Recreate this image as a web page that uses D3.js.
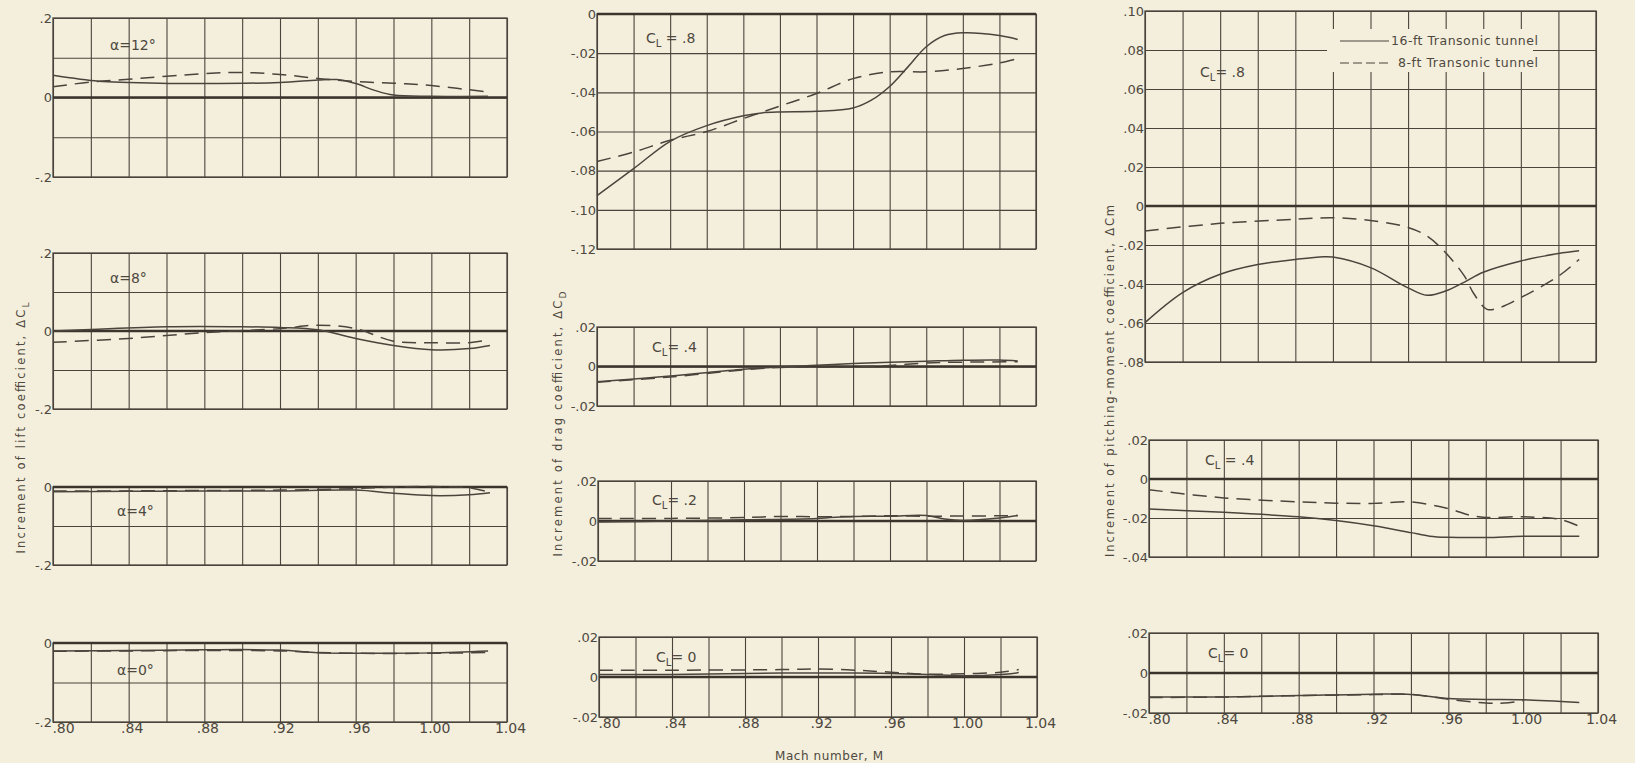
<!DOCTYPE html>
<html>
<head>
<meta charset="utf-8">
<script src="https://cdn.jsdelivr.net/npm/d3@7"></script>
<style>
  body { margin: 0; background: #f4efdc; }
  svg { display: block; }
  text { font-family: 'DejaVu Sans', sans-serif; fill: #4e4840; }
</style>
</head>
<body>
<svg width="1635" height="763"></svg>
<script>
// mach axis
const machTicks = [0.80, 0.84, 0.88, 0.92, 0.96, 1.00, 1.04];
const machTickLabels = ['.80', '.84', '.88', '.92', '.96', '1.00', '1.04'];
const machGrid = [0.80, 0.82, 0.84, 0.86, 0.88, 0.90, 0.92, 0.94, 0.96, 0.98, 1.00, 1.02, 1.04];

// increment of lift coefficient, [mach, dCL]
const lift12Solid = [[0.80, 0.056], [0.824, 0.041], [0.84, 0.038], [0.88, 0.035], [0.92, 0.038], [0.94, 0.044], [0.95, 0.045], [0.96, 0.035], [0.97, 0.018], [0.98, 0.006], [1.00, 0.003], [1.03, 0.003]];
const lift12Dash = [[0.80, 0.027], [0.82, 0.039], [0.84, 0.046], [0.88, 0.060], [0.90, 0.063], [0.92, 0.058], [0.94, 0.048], [0.96, 0.040], [0.98, 0.036], [1.00, 0.030], [1.031, 0.013]];
const lift8Solid = [[0.80, 0.0], [0.82, 0.004], [0.86, 0.011], [0.90, 0.011], [0.92, 0.009], [0.94, 0.003], [0.96, -0.019], [0.98, -0.037], [1.00, -0.048], [1.02, -0.045], [1.031, -0.037]];
const lift8Dash = [[0.80, -0.029], [0.84, -0.019], [0.88, -0.004], [0.92, 0.006], [0.94, 0.015], [0.96, 0.006], [0.98, -0.026], [1.00, -0.030], [1.02, -0.030], [1.031, -0.022]];
const lift4Solid = [[0.80, -0.012], [0.84, -0.011], [0.88, -0.010], [0.92, -0.010], [0.96, -0.008], [0.98, -0.016], [1.00, -0.022], [1.02, -0.020], [1.031, -0.015]];
const lift4Dash = [[0.80, -0.010], [0.84, -0.010], [0.88, -0.009], [0.92, -0.008], [0.96, -0.004], [0.98, 0.000], [1.00, 0.001], [1.02, -0.002], [1.031, -0.014]];
const lift0Solid = [[0.80, -0.020], [0.84, -0.019], [0.88, -0.017], [0.92, -0.018], [0.94, -0.025], [0.96, -0.026], [1.00, -0.025], [1.03, -0.020]];
const lift0Dash = [[0.80, -0.021], [0.84, -0.020], [0.88, -0.019], [0.92, -0.020], [0.94, -0.024], [0.96, -0.026], [1.00, -0.026], [1.03, -0.024]];

// increment of drag coefficient, [mach, dCD]
const drag8Solid = [[0.80, -0.0927], [0.82, -0.079], [0.84, -0.065], [0.86, -0.057], [0.88, -0.052], [0.89, -0.0505], [0.90, -0.050], [0.92, -0.0497], [0.94, -0.048], [0.95, -0.044], [0.96, -0.037], [0.97, -0.027], [0.98, -0.0167], [0.99, -0.011], [1.00, -0.0096], [1.02, -0.011], [1.03, -0.013]];
const drag8Dash = [[0.80, -0.0753], [0.82, -0.0705], [0.84, -0.0645], [0.86, -0.060], [0.88, -0.0534], [0.90, -0.047], [0.92, -0.0406], [0.94, -0.033], [0.96, -0.0295], [0.98, -0.0295], [1.00, -0.0278], [1.02, -0.025], [1.03, -0.0227]];
const drag4Solid = [[0.80, -0.0077], [0.84, -0.0048], [0.88, -0.0014], [0.90, -0.0002], [0.92, 0.0006], [0.94, 0.0015], [0.96, 0.0022], [0.98, 0.0027], [1.00, 0.0032], [1.02, 0.0033], [1.03, 0.0028]];
const drag4Dash = [[0.80, -0.0080], [0.84, -0.0053], [0.88, -0.0017], [0.90, -0.0005], [0.92, -0.0004], [0.94, -0.0002], [0.96, 0.0005], [0.98, 0.0018], [1.00, 0.0022], [1.03, 0.0024]];
const drag2Solid = [[0.80, -0.0005], [0.84, 0.0], [0.88, 0.0006], [0.92, 0.0013], [0.94, 0.0023], [0.96, 0.0024], [0.98, 0.0027], [0.99, 0.0010], [1.00, 0.0003], [1.02, 0.0015], [1.03, 0.0027]];
const drag2Dash = [[0.80, 0.0012], [0.84, 0.0013], [0.88, 0.0017], [0.90, 0.0023], [0.92, 0.0021], [0.94, 0.0023], [0.96, 0.0026], [0.98, 0.0024], [1.00, 0.0025], [1.02, 0.0026], [1.03, 0.0027]];
const drag0Solid = [[0.80, 0.0013], [0.84, 0.0013], [0.90, 0.0020], [0.94, 0.0020], [0.96, 0.0018], [0.98, 0.0013], [1.00, 0.0006], [1.02, 0.0012], [1.03, 0.0022]];
const drag0Dash = [[0.80, 0.0034], [0.84, 0.0034], [0.90, 0.0037], [0.92, 0.0040], [0.94, 0.0034], [0.96, 0.0024], [0.98, 0.0014], [1.00, 0.0016], [1.02, 0.0024], [1.03, 0.0037]];

// increment of pitching-moment coefficient, [mach, dCm]
const pitch8Solid = [[0.80, -0.0598], [0.82, -0.0444], [0.84, -0.035], [0.86, -0.030], [0.88, -0.0274], [0.895, -0.026], [0.90, -0.0262], [0.92, -0.0316], [0.94, -0.042], [0.95, -0.0458], [0.96, -0.0436], [0.97, -0.039], [0.98, -0.034], [1.00, -0.0282], [1.02, -0.0244], [1.031, -0.023]];
const pitch8Dash = [[0.80, -0.0128], [0.84, -0.0089], [0.88, -0.0068], [0.90, -0.006], [0.92, -0.0074], [0.94, -0.011], [0.95, -0.0154], [0.96, -0.024], [0.97, -0.036], [0.975, -0.045], [0.982, -0.053], [0.989, -0.052], [1.00, -0.047], [1.02, -0.036], [1.031, -0.0274]];
const pitch4Solid = [[0.80, -0.0154], [0.84, -0.0171], [0.88, -0.0194], [0.90, -0.0213], [0.92, -0.024], [0.94, -0.0275], [0.95, -0.0293], [0.96, -0.0299], [0.98, -0.0300], [1.00, -0.0294], [1.03, -0.0294]];
const pitch4Dash = [[0.80, -0.0055], [0.84, -0.0097], [0.88, -0.0117], [0.90, -0.0124], [0.92, -0.0125], [0.94, -0.0118], [0.96, -0.0152], [0.972, -0.0187], [0.98, -0.0197], [1.00, -0.0194], [1.02, -0.0208], [1.03, -0.0243]];
const pitch0Solid = [[0.80, -0.0120], [0.84, -0.0120], [0.88, -0.0113], [0.92, -0.0106], [0.94, -0.0107], [0.96, -0.0128], [0.98, -0.0132], [1.00, -0.0134], [1.03, -0.0148]];
const pitch0Dash = [[0.80, -0.0123], [0.84, -0.0120], [0.88, -0.0113], [0.92, -0.0108], [0.94, -0.0107], [0.96, -0.0131], [0.98, -0.0150], [0.99, -0.0150], [1.00, -0.0139]];

const legendLabels = ['16-ft Transonic tunnel', '8-ft Transonic tunnel'];

const ink = '#4a443c';
const paper = '#f4efdc';
const svg = d3.select('svg');

// label is [main, subscript, rest]
const panels = [
  // lift column
  { x0: 53, x1: 507, y0: 18, y1: 177, domain: [-0.2, 0.2], grid: 0.1, labelStep: 0.2, digits: 1, solid: lift12Solid, dash: lift12Dash, label: ['\u03b1=12\u00b0'], lx: 110, ly: 50 },
  { x0: 53, x1: 507, y0: 253, y1: 409, domain: [-0.2, 0.2], grid: 0.1, labelStep: 0.2, digits: 1, solid: lift8Solid, dash: lift8Dash, label: ['\u03b1=8\u00b0'], lx: 110, ly: 283 },
  { x0: 53, x1: 507, y0: 487, y1: 565, domain: [-0.2, 0], grid: 0.1, labelStep: 0.2, digits: 1, solid: lift4Solid, dash: lift4Dash, label: ['\u03b1=4\u00b0'], lx: 117, ly: 516 },
  { x0: 53, x1: 507, y0: 643, y1: 722, domain: [-0.2, 0], grid: 0.1, labelStep: 0.2, digits: 1, solid: lift0Solid, dash: lift0Dash, label: ['\u03b1=0\u00b0'], lx: 117, ly: 675, xLabels: true },
  // drag column
  { x0: 597, x1: 1036, y0: 14, y1: 249, domain: [-0.12, 0], grid: 0.02, labelStep: 0.02, digits: 2, solid: drag8Solid, dash: drag8Dash, label: ['C', 'L', ' = .8'], lx: 646, ly: 43 },
  { x0: 597, x1: 1036, y0: 327, y1: 406, domain: [-0.02, 0.02], grid: 0.02, labelStep: 0.02, digits: 2, solid: drag4Solid, dash: drag4Dash, label: ['C', 'L', '= .4'], lx: 652, ly: 352 },
  { x0: 598, x1: 1036, y0: 481, y1: 561, domain: [-0.02, 0.02], grid: 0.02, labelStep: 0.02, digits: 2, solid: drag2Solid, dash: drag2Dash, label: ['C', 'L', '= .2'], lx: 652, ly: 505 },
  { x0: 599, x1: 1037, y0: 637, y1: 717, domain: [-0.02, 0.02], grid: 0.02, labelStep: 0.02, digits: 2, solid: drag0Solid, dash: drag0Dash, label: ['C', 'L', '= 0'], lx: 656, ly: 662, xLabels: true },
  // pitching-moment column
  { x0: 1145, x1: 1596, y0: 11, y1: 362, domain: [-0.08, 0.10], grid: 0.02, labelStep: 0.02, digits: 2, solid: pitch8Solid, dash: pitch8Dash, label: ['C', 'L', '= .8'], lx: 1200, ly: 77, legend: true },
  { x0: 1149, x1: 1598, y0: 440, y1: 557, domain: [-0.04, 0.02], grid: 0.02, labelStep: 0.02, digits: 2, solid: pitch4Solid, dash: pitch4Dash, label: ['C', 'L', ' = .4'], lx: 1205, ly: 465 },
  { x0: 1149, x1: 1598, y0: 633, y1: 713, domain: [-0.02, 0.02], grid: 0.02, labelStep: 0.02, digits: 2, solid: pitch0Solid, dash: pitch0Dash, label: ['C', 'L', '= 0'], lx: 1208, ly: 658, xLabels: true }
];

const fmtTick = (v, digits) => {
  if (Math.abs(v) < 1e-9) return '0';
  return v.toFixed(digits).replace('0.', '.');
};

const steps = (lo, hi, step) => {
  const out = [];
  const n = Math.round((hi - lo) / step);
  for (let i = 0; i <= n; i++) out.push(+(lo + i * step).toFixed(4));
  return out;
};

const drawLabel = (g, parts, x, y, size) => {
  const t = g.append('text').attr('x', x).attr('y', y).attr('font-size', size);
  t.append('tspan').text(parts[0]);
  if (parts.length > 1) {
    t.append('tspan').attr('font-size', size * 0.72).attr('dy', 4).text(parts[1]);
    t.append('tspan').attr('dy', -4).text(parts[2]);
  }
  return t;
};

const render = (p) => {
  const x = d3.scaleLinear().domain([0.80, 1.04]).range([p.x0, p.x1]);
  const y = d3.scaleLinear().domain(p.domain).range([p.y1, p.y0]);
  const w = p.x1 - p.x0;
  const h = p.y1 - p.y0;
  const g = svg.append('g');

  // vertical grid
  const vg = g.append('g')
    .attr('transform', `translate(0,${p.y1})`)
    .call(d3.axisBottom(x).tickValues(machGrid).tickSize(-h).tickFormat(''));
  vg.select('.domain').remove();
  vg.selectAll('line').attr('stroke', ink).attr('stroke-width', 1.1);

  // horizontal grid
  const yGrid = steps(p.domain[0], p.domain[1], p.grid);
  const hg = g.append('g')
    .attr('transform', `translate(${p.x0},0)`)
    .call(d3.axisLeft(y).tickValues(yGrid).tickSize(-w).tickFormat(''));
  hg.select('.domain').remove();
  hg.selectAll('line').attr('stroke', ink).attr('stroke-width', 1.1);

  // frame
  g.append('rect')
    .attr('x', p.x0).attr('y', p.y0)
    .attr('width', w).attr('height', h)
    .attr('fill', 'none').attr('stroke', ink).attr('stroke-width', 1.3);

  // zero line
  g.append('line')
    .attr('x1', p.x0).attr('x2', p.x1)
    .attr('y1', y(0)).attr('y2', y(0))
    .attr('stroke', '#3a342d').attr('stroke-width', 2.4);

  // y tick labels
  const yLab = steps(p.domain[0], p.domain[1], p.labelStep);
  const ya = g.append('g')
    .attr('transform', `translate(${p.x0},0)`)
    .call(d3.axisLeft(y).tickValues(yLab).tickSize(0).tickPadding(1).tickFormat(d => fmtTick(d, p.digits)));
  ya.select('.domain').remove();
  ya.selectAll('text').attr('font-family', null).attr('font-size', 13).attr('fill', ink);

  // x tick labels
  if (p.xLabels) {
    const xa = g.append('g')
      .attr('transform', `translate(0,${p.y1})`)
      .call(d3.axisBottom(x).tickValues(machTicks).tickSize(0).tickPadding(1)
        .tickFormat((d, i) => machTickLabels[i]));
    xa.select('.domain').remove();
    xa.selectAll('text').attr('font-family', null).attr('font-size', 14).attr('fill', ink)
      .attr('dx', (d, i) => i === 0 ? 10 : 3);
  }

  // legend box
  if (p.legend) {
    g.append('rect')
      .attr('x', 1327).attr('y', 29).attr('width', 206).attr('height', 43)
      .attr('fill', paper);
    g.append('line').attr('x1', 1340).attr('x2', 1389).attr('y1', 41).attr('y2', 41)
      .attr('stroke', ink).attr('stroke-width', 1.2);
    g.append('line').attr('x1', 1340).attr('x2', 1392).attr('y1', 63).attr('y2', 63)
      .attr('stroke', ink).attr('stroke-width', 1.2).attr('stroke-dasharray', '9,4');
    g.append('text').attr('x', 1538).attr('y', 45).attr('text-anchor', 'end')
      .attr('font-size', 12.5).attr('textLength', 147).attr('lengthAdjust', 'spacing')
      .text(legendLabels[0]);
    g.append('text').attr('x', 1538).attr('y', 67).attr('text-anchor', 'end')
      .attr('font-size', 12.5).attr('textLength', 140).attr('lengthAdjust', 'spacing')
      .text(legendLabels[1]);
  }

  // curves
  const line = d3.line()
    .x(d => x(d[0]))
    .y(d => y(d[1]))
    .curve(d3.curveCatmullRom.alpha(0.5));

  g.append('path').datum(p.dash)
    .attr('d', line)
    .attr('fill', 'none').attr('stroke', ink).attr('stroke-width', 1.5)
    .attr('stroke-dasharray', '14,8');
  g.append('path').datum(p.solid)
    .attr('d', line)
    .attr('fill', 'none').attr('stroke', ink).attr('stroke-width', 1.5);

  // panel label
  drawLabel(g, p.label, p.lx, p.ly, 14).attr('fill', ink);
};

panels.forEach(render);

// axis titles
const titles = [
  { x: 21, y: 428, len: 251, parts: ['Increment of lift coefficient, \u0394C', 'L'] },
  { x: 558, y: 424, len: 265, parts: ['Increment of drag coefficient, \u0394C', 'D'] },
  { x: 1110, y: 381, len: 352, parts: ['Increment of pitching-moment coefficient, \u0394Cm'] }
];
titles.forEach(t => {
  const g = svg.append('g').attr('transform', `translate(${t.x},${t.y}) rotate(-90)`);
  const txt = g.append('text').attr('text-anchor', 'middle').attr('dy', '0.35em')
    .attr('font-size', 11.5).attr('textLength', t.len).attr('lengthAdjust', 'spacing');
  txt.append('tspan').text(t.parts[0]);
  if (t.parts.length > 1) {
    txt.append('tspan').attr('font-size', 9).attr('dy', 4).text(t.parts[1]);
  }
});

svg.append('text')
  .attr('x', 829).attr('y', 760)
  .attr('text-anchor', 'middle')
  .attr('font-size', 12).attr('textLength', 108).attr('lengthAdjust', 'spacing')
  .text('Mach number, M');
</script>
</body>
</html>
